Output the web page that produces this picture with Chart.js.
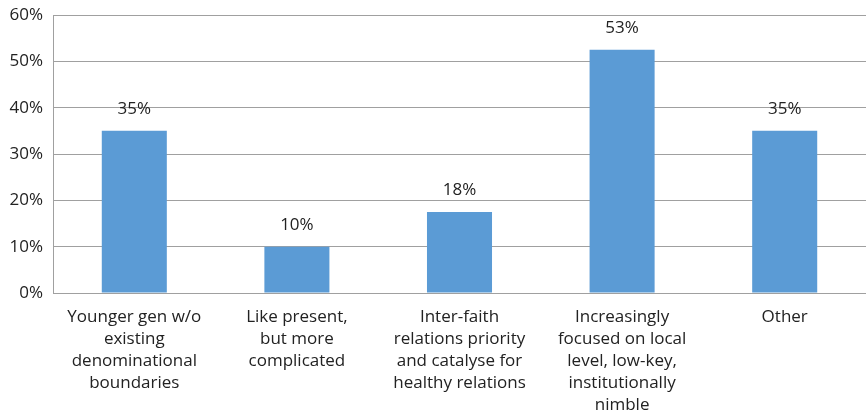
<!DOCTYPE html>
<html>
<head>
<meta charset="utf-8">
<script src="https://cdn.jsdelivr.net/npm/chart.js@4"></script>
<style>
body { margin: 0; background: #fff; }
#wrap { width: 866px; height: 415px; }
</style>
</head>
<body>
<div id="wrap"><canvas id="chart"></canvas></div>
<script>
// data
var categories = [
	["Younger gen w/o", "existing", "denominational", "boundaries"],
	["Like present,", "but more", "complicated"],
	["Inter-faith", "relations priority", "and catalyse for", "healthy relations"],
	["Increasingly", "focused on local", "level, low-key,", "institutionally", "nimble"],
	["Other"]
];
var values = [35, 10, 17.5, 52.5, 35];
var valueLabels = ["35%", "10%", "18%", "53%", "35%"];
var yTicks = [0, 10, 20, 30, 40, 50, 60];

var fontFamily = "'Open Sans', 'Noto Sans', sans-serif";

// labels above the bars
var barLabels = {
	id: 'barLabels',
	afterDatasetsDraw: function(chart) {
		var ctx = chart.ctx;
		var meta = chart.getDatasetMeta(0);
		ctx.save();
		ctx.font = "17px " + fontFamily;
		ctx.fillStyle = "#222";
		ctx.textAlign = "center";
		ctx.textBaseline = "alphabetic";
		meta.data.forEach(function(bar, i) {
			ctx.fillText(valueLabels[i], bar.x, bar.y - 17);
		});
		ctx.restore();
	}
};

var ctx = document.getElementById("chart").getContext("2d");
var myBar = new Chart(ctx, {
	type: 'bar',
	data: {
		labels: categories,
		datasets: [{
			data: values,
			backgroundColor: '#5b9bd5',
			borderWidth: 0,
			categoryPercentage: 1,
			barPercentage: 0.4
		}]
	},
	options: {
		responsive: true,
		maintainAspectRatio: false,
		animation: false,
		layout: { padding: { top: 15, right: 0, left: 0, bottom: 0 } },
		plugins: {
			legend: { display: false },
			tooltip: { enabled: false }
		},
		scales: {
			x: {
				grid: { display: false, drawTicks: false },
				border: { color: '#a0a0a0', width: 1 },
				ticks: {
					color: '#222',
					font: { family: fontFamily, size: 17, lineHeight: 1.3 },
					padding: 13,
					maxRotation: 0,
					autoSkip: false
				},
				afterFit: function(scale) { scale.height = 122; }
			},
			y: {
				min: 0,
				max: 60,
				afterBuildTicks: function(scale) {
					scale.ticks = yTicks.map(function(v) { return { value: v }; });
				},
				grid: { color: '#a0a0a0', drawTicks: false, lineWidth: 1 },
				border: { color: '#a0a0a0', width: 1 },
				ticks: {
					color: '#222',
					font: { family: fontFamily, size: 17 },
					padding: 10,
					callback: function(value) { return value + '%'; }
				},
				afterFit: function(scale) {
					scale.width = 53;
					scale.paddingTop = 0;
					scale.paddingBottom = 0;
				}
			}
		}
	},
	plugins: [barLabels]
});
</script>
</body>
</html>
